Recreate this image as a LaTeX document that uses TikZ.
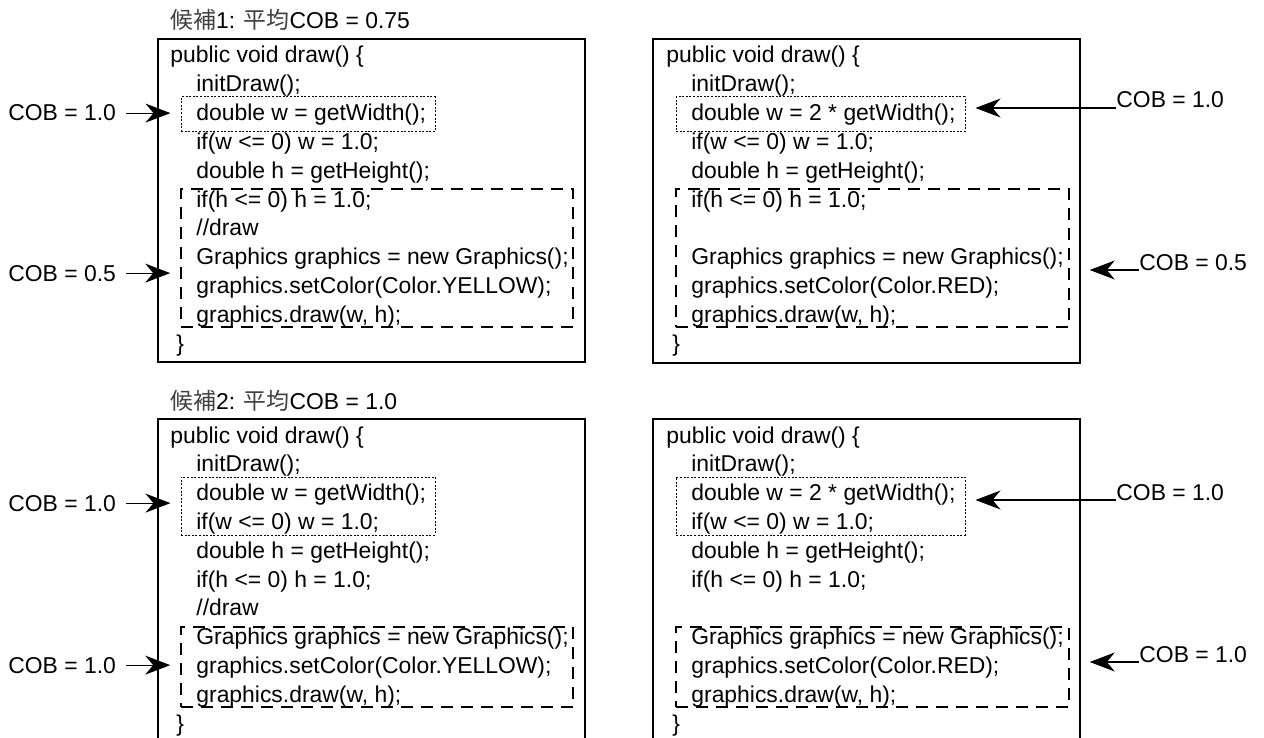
\documentclass[tikz,border=0pt]{standalone}
\usepackage{fontspec}
\setmainfont{Liberation Sans}
\newfontfamily\cjk{Noto Sans CJK JP}
\usetikzlibrary{arrows.meta,fit}
\begin{document}
\begin{tikzpicture}[x=0.5pt,y=-0.5pt,
    code/.style={anchor=base west,inner sep=0pt,font=\fontsize{11.45}{13}\selectfont},
    outer/.style={draw,line width=1.35pt,inner sep=0pt},
    dotbox/.style={draw,line width=0.5pt,dash pattern=on 1pt off 0.8pt,inner sep=0pt},
    dashbox/.style={draw,line width=0.75pt,dash pattern=on 6pt off 4pt,inner sep=0pt},
    cobarrow/.style={-{Stealth[length=12.5pt,width=9.5pt,inset=4pt]},line width=0.6pt}]
  \useasboundingbox (0,0) rectangle (1264,738);

  % candidate 1, original
  \node[code] (ta) at (170,29) {{\cjk\color{black!75}候補}1: {\cjk\color{black!75}平均}COB = 0.75};
  \node[outer,fit={(158,39) (585,362)}] (boxa) {};
  \node[code] (a0) at (170,63) {public void draw() \{};
  \node[code] (a1) at (196,91.8) {initDraw();};
  \node[code] (a2) at (196,120.6) {double w = getWidth();};
  \node[code] (a3) at (196,149.4) {if(w <= 0) w = 1.0;};
  \node[code] (a4) at (196,178.2) {double h = getHeight();};
  \node[code] (a5) at (196,207) {if(h <= 0) h = 1.0;};
  \node[code] (a6) at (196,235.8) {//draw};
  \node[code] (a7) at (196,264.6) {Graphics graphics = new Graphics();};
  \node[code] (a8) at (196,293.4) {graphics.setColor(Color.YELLOW);};
  \node[code] (a9) at (196,322.2) {graphics.draw(w, h);};
  \node[code] (a10) at (176,351) {\}};
  \node[dotbox,fit={(181,97) (435,132)}] (wa) {};
  \node[dashbox,fit={(181,189) (573,327)}] (ga) {};
  \node[code] (ca1) at (8,121) {COB = 1.0};
  \node[code] (ca2) at (8,281) {COB = 0.5};
  \draw[cobarrow,shorten <=5pt,shorten >=5pt] (ca1.east) -- (ca1.east -| wa.west);
  \draw[cobarrow,shorten <=5pt,shorten >=5pt] (ca2.east) -- (ca2.east -| ga.west);

  % candidate 1, changed
  \node[outer,fit={(653,39) (1080,363)}] (boxb) {};
  \node[code] (b0) at (666,63) {public void draw() \{};
  \node[code] (b1) at (691,91.8) {initDraw();};
  \node[code] (b2) at (691,120.6) {double w = 2 * getWidth();};
  \node[code] (b3) at (691,149.4) {if(w <= 0) w = 1.0;};
  \node[code] (b4) at (691,178.2) {double h = getHeight();};
  \node[code] (b5) at (691,207) {if(h <= 0) h = 1.0;};
  \node[code] (b7) at (691,264.6) {Graphics graphics = new Graphics();};
  \node[code] (b8) at (691,293.4) {graphics.setColor(Color.RED);};
  \node[code] (b9) at (691,322.2) {graphics.draw(w, h);};
  \node[code] (b10) at (672,351) {\}};
  \node[dotbox,fit={(676,97) (965,132)}] (wb) {};
  \node[dashbox,fit={(676,189) (1069,327)}] (gb) {};
  \node[code] (cb1) at (1116,108) {COB = 1.0};
  \node[code] (cb2) at (1139,270) {COB = 0.5};
  \draw[cobarrow,shorten >=5pt] (cb1.base west) -- (cb1.base west -| wb.east);
  \draw[cobarrow,shorten >=10pt] (cb2.base west) -- (cb2.base west -| gb.east);

  % candidate 2, original
  \node[code] (tc) at (170,409) {{\cjk\color{black!75}候補}2: {\cjk\color{black!75}平均}COB = 1.0};
  \node[outer,fit={(158,419) (585,760)}] (boxc) {};
  \node[code] (c0) at (170,443) {public void draw() \{};
  \node[code] (c1) at (196,471.8) {initDraw();};
  \node[code] (c2) at (196,500.6) {double w = getWidth();};
  \node[code] (c3) at (196,529.4) {if(w <= 0) w = 1.0;};
  \node[code] (c4) at (196,558.2) {double h = getHeight();};
  \node[code] (c5) at (196,587) {if(h <= 0) h = 1.0;};
  \node[code] (c6) at (196,615.8) {//draw};
  \node[code] (c7) at (196,644.6) {Graphics graphics = new Graphics();};
  \node[code] (c8) at (196,673.4) {graphics.setColor(Color.YELLOW);};
  \node[code] (c9) at (196,702.2) {graphics.draw(w, h);};
  \node[code] (c10) at (176,731) {\}};
  \node[dotbox,fit={(181,477) (435,535)}] (wc) {};
  \node[dashbox,fit={(181,627) (573,707)}] (gc) {};
  \node[code] (cc1) at (8,511) {COB = 1.0};
  \node[code] (cc2) at (8,673) {COB = 1.0};
  \draw[cobarrow,shorten <=5pt,shorten >=5pt] (cc1.east) -- (cc1.east -| wc.west);
  \draw[cobarrow,shorten <=5pt,shorten >=5pt] (cc2.east) -- (cc2.east -| gc.west);

  % candidate 2, changed
  \node[outer,fit={(653,419) (1080,760)}] (boxd) {};
  \node[code] (d0) at (666,443) {public void draw() \{};
  \node[code] (d1) at (691,471.8) {initDraw();};
  \node[code] (d2) at (691,500.6) {double w = 2 * getWidth();};
  \node[code] (d3) at (691,529.4) {if(w <= 0) w = 1.0;};
  \node[code] (d4) at (691,558.2) {double h = getHeight();};
  \node[code] (d5) at (691,587) {if(h <= 0) h = 1.0;};
  \node[code] (d7) at (691,644.6) {Graphics graphics = new Graphics();};
  \node[code] (d8) at (691,673.4) {graphics.setColor(Color.RED);};
  \node[code] (d9) at (691,702.2) {graphics.draw(w, h);};
  \node[code] (d10) at (672,731) {\}};
  \node[dotbox,fit={(676,477) (965,535)}] (wd) {};
  \node[dashbox,fit={(676,627) (1069,707)}] (gd) {};
  \node[code] (cd1) at (1116,500) {COB = 1.0};
  \node[code] (cd2) at (1139,662) {COB = 1.0};
  \draw[cobarrow,shorten >=5pt] (cd1.base west) -- (cd1.base west -| wd.east);
  \draw[cobarrow,shorten >=10pt] (cd2.base west) -- (cd2.base west -| gd.east);
\end{tikzpicture}
\end{document}
